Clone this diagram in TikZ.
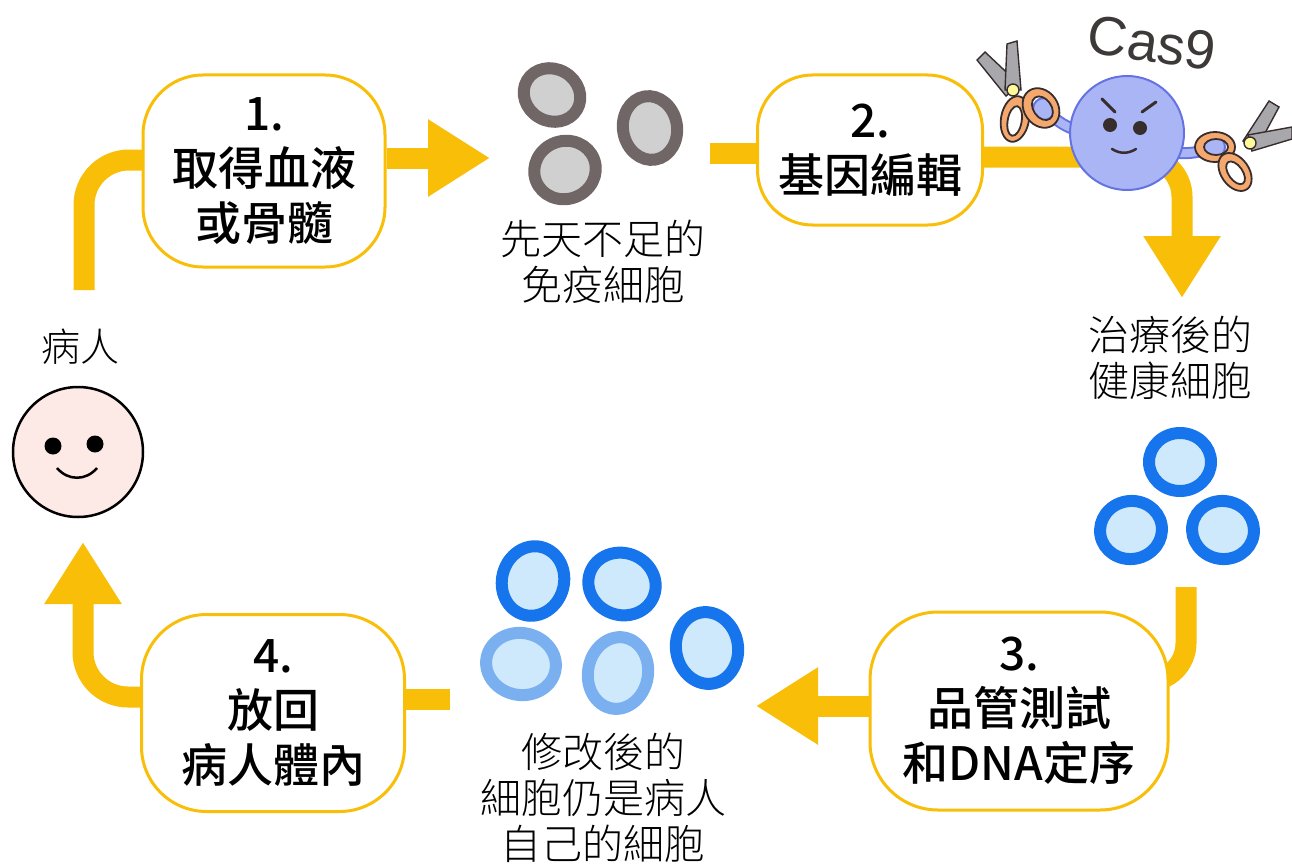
\documentclass[tikz,border=0pt]{standalone}
\usepackage{fontspec}
\usepackage{tikz}
\usetikzlibrary{arrows.meta}
\newfontfamily\cjkmid{Noto Sans CJK TC Medium}
\newfontfamily\cjklight{Noto Sans CJK TC Light}
\newfontfamily\casfont{Liberation Sans}

\definecolor{gold}{RGB}{248,190,8}
\definecolor{skin}{RGB}{253,233,229}
\definecolor{sickring}{RGB}{112,102,102}
\definecolor{sickcore}{RGB}{208,208,208}
\definecolor{goodring}{RGB}{22,116,236}
\definecolor{paleRing}{RGB}{122,176,240}
\definecolor{goodcore}{RGB}{206,233,251}
\definecolor{casfill}{RGB}{170,181,246}
\definecolor{casedge}{RGB}{100,115,225}
\definecolor{casgray}{RGB}{62,57,57}
\definecolor{handle}{RGB}{245,168,110}
\definecolor{blade}{RGB}{168,168,172}
\definecolor{ink}{RGB}{55,45,45}

\tikzstyle{stepbox}=[draw=gold, line width=3pt, fill=white, rounded corners=60pt, align=center, inner sep=0pt, font=\cjkmid\fontsize{46}{55}\selectfont]
\tikzstyle{celltext}=[align=center, font=\cjklight\fontsize{41}{46}\selectfont]
\tikzstyle{flow}=[draw=gold, line width=21pt]
\tikzstyle{head}=[-{Triangle[width=73pt,length=62pt]}]
\tikzstyle{sickcell}=[draw=sickring, fill=sickcore, line width=12pt]
\tikzstyle{goodcell}=[draw=goodring, fill=goodcore, line width=12pt]
\tikzstyle{palecell}=[draw=paleRing, fill=goodcore, line width=12pt]
\tikzstyle{loop}=[fill=handle, draw=ink, line width=1.8pt, even odd rule]
\tikzstyle{knife}=[fill=blade, draw=ink, line width=1.4pt]
\pgfdeclarelayer{bg}
\pgfsetlayers{bg,main}

\begin{document}
\begin{tikzpicture}[x=1pt, y=-1pt]
    \useasboundingbox (0,0) rectangle (1292,864);

    % the four steps
    \node[stepbox, minimum width=242pt, minimum height=192pt] (get) at (264,171) {1.\\取得血液\\或骨髓};
    \node[stepbox, minimum width=225pt, minimum height=150pt, rounded corners=55pt] (edit) at (870,150) {2.\\基因編輯};
    \node[stepbox, minimum width=298pt, minimum height=198pt, rounded corners=68pt] (test) at (1019,711) {3.\\品管測試\\和DNA定序};
    \node[stepbox, minimum width=263pt, minimum height=197pt, rounded corners=65pt] (back) at (273,713) {4.\\放回\\病人體內};

    % patient
    \node[celltext, font=\cjklight\fontsize{39}{46}\selectfont] (patientname) at (80,347) {病人};
    \node[draw, circle, line width=2.5pt, fill=skin, minimum size=130pt] (patient) at (78,452) {};
    \fill (53,446) circle (8.5);
    \fill (95,444) circle (8.5);
    \draw[line width=2.5pt] (57,468) .. controls (68,481) and (86,481) .. (97,468);

    % cells
    \foreach \x/\y/\a/\b/\r in {552/95/29/26/-30, 650/128/27/32/10, 565/170/31/29/20}
      \draw[sickcell, rotate around={\r:(\x,\y)}] (\x,\y) ellipse (\a pt and \b pt);
    \foreach \x/\y/\a/\b/\r in {1180/462/31/29/0, 1131/530/31/29/10, 1223/530/31/29/-10}
      \draw[goodcell, rotate around={\r:(\x,\y)}] (\x,\y) ellipse (\a pt and \b pt);
    \foreach \x/\y/\a/\b/\r in {533/581/31/35/-15, 622/584/34/31/-20, 707/648/31/36/10}
      \draw[goodcell, rotate around={\r:(\x,\y)}] (\x,\y) ellipse (\a pt and \b pt);
    \foreach \x/\y/\a/\b/\r in {521/664/35/31/-10, 618/673/30/36/-10}
      \draw[palecell, rotate around={\r:(\x,\y)}] (\x,\y) ellipse (\a pt and \b pt);

    \node[celltext] (sicktext) at (603,262) {先天不足的\\免疫細胞};
    \node[celltext] (goodtext) at (1170,358) {治療後的\\健康細胞};
    \node[celltext] (mixedtext) at (603,798) {修改後的\\細胞仍是病人\\自己的細胞};

    % where the arrows meet the cell groups
    \coordinate (sickin) at (490,158);
    \coordinate (sickout) at (710,153);
    \coordinate (goodin) at (1182,298);
    \coordinate (goodout) at (1186,587);
    \coordinate (mixedin) at (756,706);
    \coordinate (mixedout) at (450,699);
    \coordinate (patientin) at (83,542);
    \coordinate (patientout) at (84,290);

    \begin{pgfonlayer}{bg}
      \draw[flow, rounded corners=45pt] (patientout) |- ([yshift=11pt]get.center);
      \draw[flow, head] (get.east |- sickin) -- (sickin);
      \draw[flow] (sickout) -- (edit.center |- sickout);
      \draw[flow, head, rounded corners=40pt] ([yshift=-7pt]edit.center) -| (goodin);
      \draw[flow, rounded corners=38pt] (goodout) |- ([yshift=30pt]test.center);
      \draw[flow, head] (test.west |- mixedin) -- (mixedin);
      \draw[flow] (mixedout) -- (back.center |- mixedout);
      \draw[flow, head, rounded corners=45pt] ([yshift=16pt]back.center) -| (patientin);
    \end{pgfonlayer}

    % Cas9 with its scissors
    \node[casgray, rotate=-8, font=\casfont\fontsize{55}{55}\selectfont] (castext) at (1152,43) {Cas9};
    \draw[casedge, line width=12pt, line cap=round] (1082,132) to[bend left=15] (1046,110);
    \draw[casedge, line width=12pt, line cap=round] (1170,152) to[bend right=15] (1213,147);
    \draw[casfill, line width=8pt, line cap=round] (1082,132) to[bend left=15] (1046,110);
    \draw[casfill, line width=8pt, line cap=round] (1170,152) to[bend right=15] (1213,147);
    \draw[casedge, fill=casfill, line width=2pt] (1044,109) circle (11) (1214,147) circle (11);
    \node[circle, draw=casedge, fill=casfill, line width=2pt, minimum size=114pt] (cas9) at (1127,133) {};
    \draw[ink, line width=3pt, line cap=round] (1102,99) -- (1115,112) (1142,112) -- (1156,102);
    \fill[ink] (1110,125) circle (7) (1140,128) circle (7);
    \draw[ink, line width=2.5pt, line cap=round] (1112,149) .. controls (1120,154) and (1128,154) .. (1136,149);

    % left scissors
    \draw[knife] (1006,96) -- (977,60) -- (985,52) -- (1020,85) -- cycle;
    \draw[knife] (1005,90) -- (1007,44) -- (1017,41) -- (1021,90) -- cycle;
    \draw[loop, rotate around={-10:(1015,119)}] (1015,119) ellipse (14 and 23) (1015,121) ellipse (7 and 15);
    \draw[loop, rotate around={35:(1041,108)}] (1041,108) ellipse (17 and 21) (1042,109) ellipse (9 and 13);
    \draw[fill=yellow!40, draw=ink, line width=1.4pt] (1013,90) circle (6);

    % right scissors
    \draw[knife] (1243,141) -- (1269,101) -- (1279,107) -- (1257,148) -- cycle;
    \draw[knife] (1248,135) -- (1292,127) -- (1292,139) -- (1252,151) -- cycle;
    \draw[loop] (1215,147) ellipse (20 and 15) (1216,147) ellipse (12 and 8);
    \draw[loop, rotate around={35:(1235,172)}] (1235,172) ellipse (14 and 21) (1235,173) ellipse (7 and 13);
    \draw[fill=yellow!40, draw=ink, line width=1.4pt] (1250,143) circle (6);

\end{tikzpicture}
\end{document}
